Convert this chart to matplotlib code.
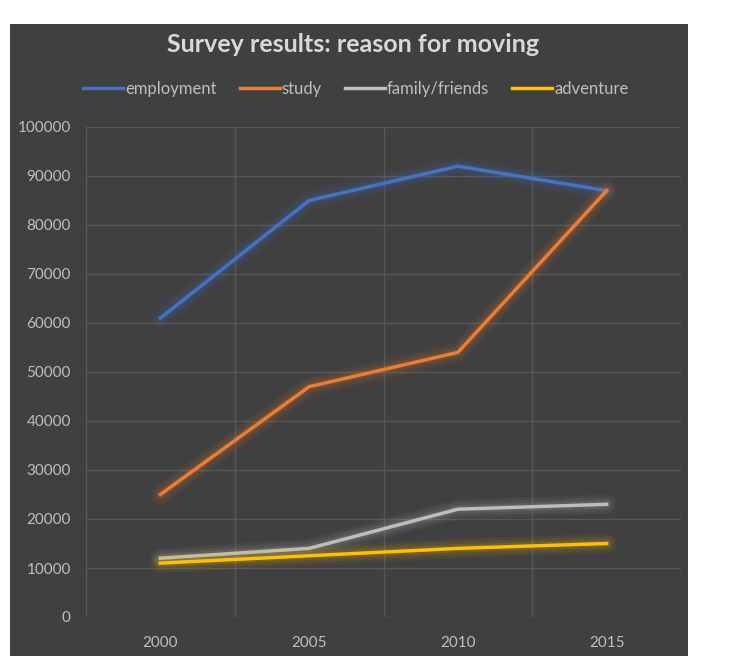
import matplotlib.pyplot as plt
from matplotlib.patches import Rectangle

years = ["2000", "2005", "2010", "2015"]
employment = [61000, 85000, 92000, 87000]
study = [25000, 47000, 54000, 87000]
family = [12000, 14000, 22000, 23000]
adventure = [11000, 12500, 14000, 15000]

series = [("employment", employment, "#4472c4"),
          ("study", study, "#ed7d31"),
          ("family/friends", family, "#bdbdbd"),
          ("adventure", adventure, "#ffc000")]

plt.rcParams['font.family'] = ['Lato', 'DejaVu Sans']

W, H = 736, 672
fig = plt.figure(figsize=(W / 100, H / 100), dpi=100, facecolor="white")
# dark chart panel
fig.patches.append(Rectangle((10 / W, 1 - 656 / H), 678 / W, 632 / H,
                             transform=fig.transFigure, facecolor="#404040",
                             edgecolor="none", zorder=-10))

ax = fig.add_axes([86 / W, 1 - 617 / H, 595 / W, 490 / H])
ax.set_facecolor("none")

x = list(range(len(years)))
for name, vals, col in series:
    # soft glow behind each line
    for lw, a in [(14, 0.06), (10, 0.08), (6, 0.12)]:
        ax.plot(x, vals, color=col, lw=lw, alpha=a, solid_capstyle="round",
                solid_joinstyle="round")
    ax.plot(x, vals, color=col, lw=2.5, label=name, solid_joinstyle="round")

ax.set_xlim(-0.5, 3.5)
ax.set_ylim(0, 100000)
ax.set_yticks(range(0, 100001, 10000))
ax.set_xticks(x)
ax.set_xticklabels(years)
ax.set_xticks([-0.5, 0.5, 1.5, 2.5, 3.5], minor=True)
ax.grid(True, axis="y", color="#575757", lw=1)
ax.grid(True, axis="x", which="minor", color="#575757", lw=1)
ax.tick_params(which="both", length=0, colors="#bfbfbf", labelsize=11)
ax.tick_params(axis="y", pad=11)
ax.tick_params(axis="x", pad=14)
for s in ax.spines.values():
    s.set_visible(False)
ax.set_axisbelow(True)

fig.text(353 / W, 1 - 45 / H, "Survey results: reason for moving",
         ha="center", va="center", fontsize=18, fontweight="bold", color="#d9d9d9")

handles = ax.get_lines()[3::4]
fig.legend(handles, [s[0] for s in series], loc="center",
           bbox_to_anchor=(356 / W, 1 - 89 / H), ncol=4, frameon=False,
           handlelength=2.4, handletextpad=0.1, columnspacing=1.4,
           labelcolor="#bfbfbf", fontsize=12)

fig.savefig("out.png", dpi=100, facecolor="white")
